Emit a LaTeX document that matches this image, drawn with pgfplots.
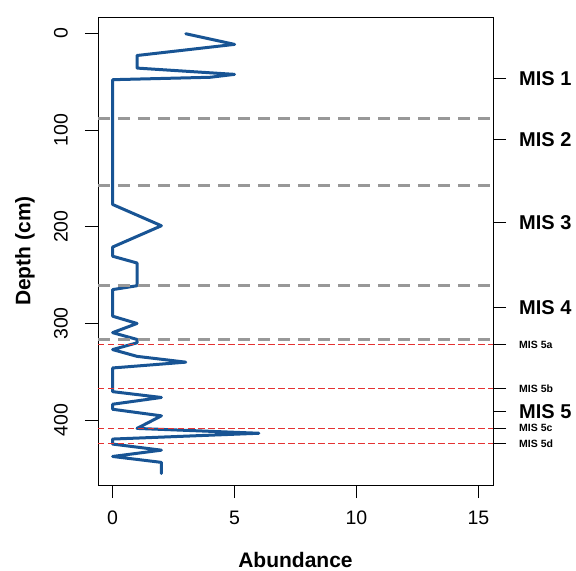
\documentclass[border=0pt]{standalone}
\usepackage{fontspec}
\setmainfont{Liberation Sans}
\usepackage{pgfplots}
\pgfplotsset{compat=1.18}
\definecolor{lineblue}{RGB}{24,84,148}
\definecolor{dgray}{RGB}{152,152,152}
\definecolor{dred}{RGB}{228,50,50}
\newcommand{\misbig}{\fontsize{20bp}{20bp}\selectfont\bfseries}
\newcommand{\missml}{\fontsize{10.5bp}{11bp}\selectfont\bfseries}
\begin{document}
\begin{tikzpicture}
\useasboundingbox (-98bp,-86bp) rectangle (478bp,485bp);
\begin{axis}[
 at={(0,0)}, anchor=south west,
 scale only axis, width=395bp, height=468bp,
 xmin=-0.6, xmax=15.6, ymin=-16.8, ymax=467, y dir=reverse,
 xtick={0,5,10,15}, ytick={0,100,200,300,400},
 xtick pos=bottom, ytick pos=left,
 tick align=outside, major tick length=13bp,
 every tick/.style={black, line width=0.8bp},
 axis line style={line width=0.8bp},
 /pgf/number format/assume math mode=true,
 ticklabel style={font=\fontsize{19.5bp}{20bp}\selectfont},
 xticklabel style={anchor=north, inner sep=0pt},
 yticklabel style={rotate=90, anchor=south, inner sep=0pt},
 xticklabel shift=13bp, yticklabel shift=17bp,
 xlabel={Abundance}, ylabel={Depth (cm)},
 label style={font=\fontsize{21bp}{22bp}\selectfont\bfseries},
 xlabel style={at={(axis description cs:0.5,-0.16)}, anchor=center},
 ylabel style={at={(axis description cs:-0.1848,0.5)}, anchor=center},
]
\addplot[lineblue, line width=3bp, line join=round, line cap=round] table {
x y
3 0.5
5 11.5
1 23
1 36
5 42.5
4 45.5
0 48
0 177
1 188
2 199
0 221
0 230.5
1 237.5
1 261
0 265
0 292.5
1 300
0 309.5
1 316.5
1 320
0 327
1 334
3 340
0 346
0 370.5
2 376.5
0 383.5
0 388.7
2 395.5
1 408.5
6 413.5
0 419.5
0 424.7
2 431
0 437.5
2 443.6
2 455
};
\addplot[dgray, line width=3bp, dash pattern=on 12bp off 8bp] coordinates {(-0.6,88.1) (15.6,88.1)};
\addplot[dgray, line width=3bp, dash pattern=on 12bp off 8bp] coordinates {(-0.6,156.9) (15.6,156.9)};
\addplot[dgray, line width=3bp, dash pattern=on 12bp off 8bp] coordinates {(-0.6,260.8) (15.6,260.8)};
\addplot[dgray, line width=3bp, dash pattern=on 12bp off 8bp] coordinates {(-0.6,316.8) (15.6,316.8)};
\addplot[dred, line width=1.4bp, dash pattern=on 6.5bp off 3.5bp] coordinates {(-0.6,321.7) (15.6,321.7)};
\addplot[dred, line width=1.4bp, dash pattern=on 6.5bp off 3.5bp] coordinates {(-0.6,367) (15.6,367)};
\addplot[dred, line width=1.4bp, dash pattern=on 6.5bp off 3.5bp] coordinates {(-0.6,408.4) (15.6,408.4)};
\addplot[dred, line width=1.4bp, dash pattern=on 6.5bp off 3.5bp] coordinates {(-0.6,423.9) (15.6,423.9)};
\end{axis}
\begin{axis}[
 at={(0,0)}, anchor=south west,
 scale only axis, width=395bp, height=468bp,
 xmin=-0.6, xmax=15.6, ymin=-16.8, ymax=467, y dir=reverse,
 hide x axis, axis y line*=right,
 tick align=outside, major tick length=13bp,
 every tick/.style={black, line width=0.8bp},
 axis line style={line width=0.8bp},
 ytick={46.9,110,195.5,283.2,321.7,367,390.8,408.4,423.9},
 yticklabels={{\misbig MIS 1},{\misbig MIS 2},{\misbig MIS 3},{\misbig MIS 4},{\missml MIS 5a},{\missml MIS 5b},{\misbig MIS 5},{\missml MIS 5c},{\missml MIS 5d}},
 yticklabel style={anchor=west, inner sep=0pt},
 yticklabel shift=13bp,
]
\end{axis}
\end{tikzpicture}
\end{document}
